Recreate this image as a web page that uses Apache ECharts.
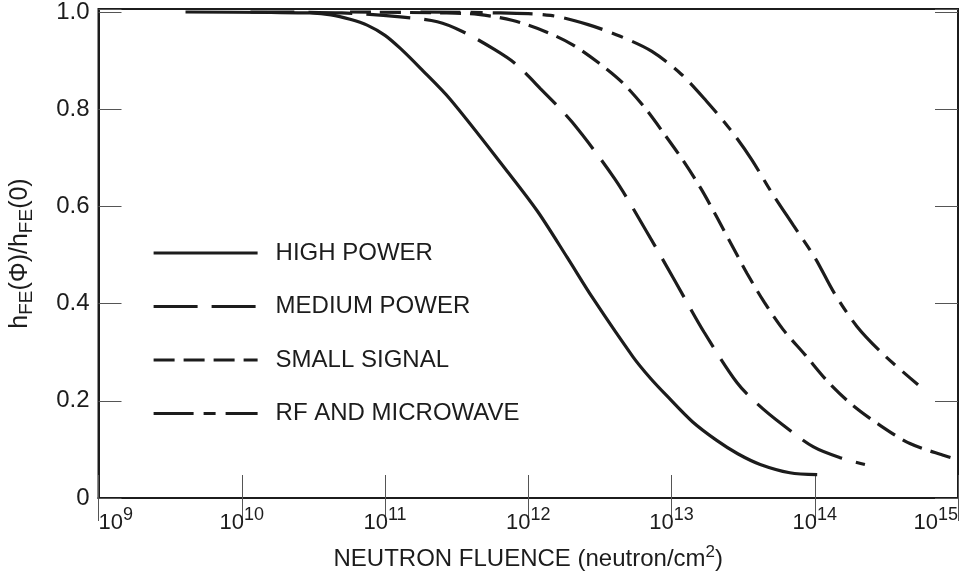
<!DOCTYPE html>
<html>
<head>
<meta charset="utf-8">
<script src="https://cdn.jsdelivr.net/npm/echarts@6/dist/echarts.min.js"></script>
<style>
  html, body { margin: 0; padding: 0; background: #ffffff; }
  #chart { width: 967px; height: 577px; }
</style>
</head>
<body>
<div id="chart"></div>
<script>
// Current-gain degradation vs. neutron fluence for four transistor classes
const seriesNames = ['HIGH POWER', 'MEDIUM POWER', 'SMALL SIGNAL', 'RF AND MICROWAVE'];

// fluence (neutron/cm^2) and normalised gain hFE(Φ)/hFE(0)
const highPowerFluence = [4.05e9, 1.6e10, 3.0e10, 4.2e10, 5.7e10, 7.5e10, 1.0e11, 1.28e11, 1.77e11, 2.86e11, 7.1e11, 1.16e12, 1.87e12, 2.84e12, 5.4e12, 7.1e12, 9.3e12, 1.4e13, 2.08e13, 2.9e13, 4.16e13, 6.7e13, 1.04e14];
const highPowerGain    = [1.0, 0.999, 0.998, 0.994, 0.985, 0.973, 0.952, 0.925, 0.884, 0.82, 0.673, 0.59, 0.495, 0.41, 0.29, 0.247, 0.21, 0.157, 0.118, 0.091, 0.069, 0.052, 0.048];

const mediumPowerFluence = [1.15e10, 5.0e10, 1.28e11, 2.32e11, 3.47e11, 5.8e11, 8.1e11, 1.21e12, 2.03e12, 4.05e12, 6.65e12, 1.06e13, 1.69e13, 2.87e13, 4.03e13, 6.0e13, 9.8e13, 1.5e14, 2.24e14];
const mediumPowerGain    = [1.0, 0.998, 0.99, 0.98, 0.96, 0.923, 0.894, 0.843, 0.773, 0.655, 0.55, 0.446, 0.341, 0.237, 0.192, 0.15, 0.105, 0.083, 0.069];

const smallSignalFluence = [5.7e10, 2.6e11, 4.48e11, 7.7e11, 1.31e12, 2.03e12, 3.08e12, 4.53e12, 6.55e12, 9.0e12, 1.22e13, 1.61e13, 2.08e13, 2.65e13, 3.37e13, 4.44e13, 6.0e13, 8.6e13, 1.22e14, 1.82e14, 2.81e14, 4.62e14, 8.1e14, 1.0e15];
const smallSignalGain    = [1.0, 0.998, 0.995, 0.983, 0.96, 0.933, 0.896, 0.855, 0.802, 0.747, 0.692, 0.636, 0.577, 0.519, 0.462, 0.403, 0.347, 0.294, 0.241, 0.192, 0.151, 0.112, 0.087, 0.079];

const rfFluence = [1.77e11, 6.4e11, 1.43e12, 2.62e12, 4.39e12, 7.3e12, 1.17e13, 1.75e13, 2.56e13, 3.6e13, 4.97e13, 7.06e13, 1.01e14, 1.36e14, 1.97e14, 3.05e14, 5.26e14];
const rfGain    = [1.0, 0.998, 0.993, 0.974, 0.95, 0.919, 0.872, 0.817, 0.759, 0.698, 0.63, 0.562, 0.493, 0.423, 0.353, 0.294, 0.233];

// axis ticks
const yTicks = [0, 0.2, 0.4, 0.6, 0.8, 1.0];
const xMinExp = 9, xMaxExp = 15;

function pairs(xs, ys) { return xs.map((x, i) => [x, ys[i]]); }

const INK = '#1c1c1c';
const FONT = 'Liberation Sans, Arial, sans-serif';

const chart = echarts.init(document.getElementById('chart'), null, { renderer: 'canvas' });

const yLabelFmt = v => {
  const hit = yTicks.find(t => Math.abs(t - v) < 1e-6);
  if (hit === undefined) return '';
  return hit === 0 ? '0' : hit.toFixed(1);
};

const xLabelFmt = v => {
  const e = Math.round(Math.log10(v));
  return '{b|10}{s|' + e + '}';
};

const tickStyle = { show: true, inside: true, length: 23, lineStyle: { color: '#555', width: 1 } };

function lineSeries(name, data, dash) {
  return {
    name, type: 'line', data,
    xAxisIndex: 0, yAxisIndex: 0,
    symbol: 'none', smooth: 0.3,
    lineStyle: { color: INK, width: 3.2, type: dash },
    itemStyle: { color: INK },
    emphasis: { disabled: true },
    z: 3
  };
}

chart.setOption({
  animation: false,
  backgroundColor: '#ffffff',
  textStyle: { fontFamily: FONT },
  grid: { left: 98, right: 9, top: 7, bottom: 79, show: true, borderColor: INK, borderWidth: 2, backgroundColor: 'transparent' },
  legend: {
    orient: 'vertical', left: 147, top: 236,
    itemWidth: 104, itemHeight: 22, itemGap: 29.5,
    data: seriesNames,
    selectedMode: false,
    itemStyle: { color: 'rgba(0,0,0,0)', borderColor: 'rgba(0,0,0,0)', borderWidth: 0, opacity: 0 },
    lineStyle: { width: 3.2, opacity: 1 },
    textStyle: { fontFamily: FONT, fontSize: 24, color: INK, lineHeight: 22, padding: [0, 0, 0, 13] }
  },
  xAxis: [
    {
      type: 'log', logBase: 10, min: Math.pow(10, xMinExp), max: Math.pow(10, xMaxExp), interval: 1,
      position: 'bottom',
      name: '{t|NEUTRON FLUENCE (neutron/cm}{p|2}{t|)}',
      nameLocation: 'middle', nameGap: 46,
      nameTextStyle: {
        rich: {
          t: { fontFamily: FONT, fontSize: 24, color: INK },
          p: { fontFamily: FONT, fontSize: 17, color: INK, padding: [0, 0, 14, 0] }
        }
      },
      axisLine: { show: true, lineStyle: { color: INK, width: 2 } },
      axisTick: tickStyle,
      minorTick: { show: false },
      splitLine: { show: false },
      axisLabel: {
        margin: 8, formatter: xLabelFmt, alignMinLabel: 'left', alignMaxLabel: 'right',
        rich: {
          b: { fontFamily: FONT, fontSize: 22, color: INK },
          s: { fontFamily: FONT, fontSize: 18, color: INK, padding: [0, 0, 16, 0] }
        }
      }
    },
    {
      type: 'log', logBase: 10, min: Math.pow(10, xMinExp), max: Math.pow(10, xMaxExp), interval: 1,
      position: 'top',
      axisLine: { show: false },
      axisTick: tickStyle,
      minorTick: { show: false },
      splitLine: { show: false },
      axisLabel: { show: false }
    }
  ],
  yAxis: [
    {
      type: 'value', min: 0, max: 1.006, interval: 0.2,
      position: 'left',
      name: 'h{sub|FE}(Φ)/h{sub|FE}(0)',
      nameLocation: 'middle', nameGap: 62, nameRotate: 90,
      nameTextStyle: {
        fontFamily: FONT, fontSize: 25, color: INK,
        rich: {
          sub: { fontFamily: FONT, fontSize: 19, color: INK, padding: [13, 0, 0, 0] }
        }
      },
      axisLine: { show: true, lineStyle: { color: INK, width: 2 } },
      axisTick: tickStyle,
      splitLine: { show: false },
      axisLabel: { margin: 9, formatter: yLabelFmt, fontFamily: FONT, fontSize: 24, color: INK }
    },
    {
      type: 'value', min: 0, max: 1.006, interval: 0.2,
      position: 'right',
      axisLine: { show: false },
      axisTick: tickStyle,
      splitLine: { show: false },
      axisLabel: { show: false }
    }
  ],
  series: [
    lineSeries(seriesNames[0], pairs(highPowerFluence, highPowerGain), 'solid'),
    lineSeries(seriesNames[1], pairs(mediumPowerFluence, mediumPowerGain), [44, 14]),
    lineSeries(seriesNames[2], pairs(smallSignalFluence, smallSignalGain), [21, 9]),
    lineSeries(seriesNames[3], pairs(rfFluence, rfGain), [40, 10, 12, 10])
  ]
});
</script>
</body>
</html>
